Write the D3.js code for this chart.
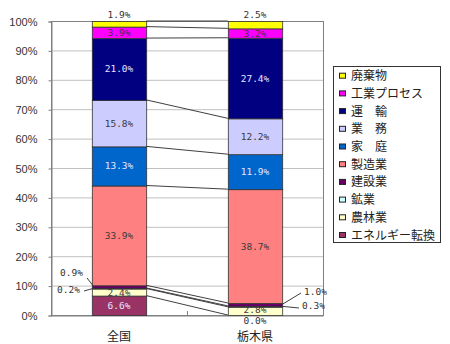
<!DOCTYPE html>
<html><head><meta charset="utf-8">
<script src="https://cdn.jsdelivr.net/npm/d3@7"></script>
<style>body{margin:0;background:#fff}</style>
</head><body>
<svg id="c" width="450" height="344"></svg>
<script>
const categories = ["全国", "栃木県"];
const seriesNames = ["エネルギー転換", "農林業", "鉱業", "建設業", "製造業", "家庭", "業務", "運輸", "工業プロセス", "廃棄物"];
const legendLabels = ["エネルギー転換", "農林業", "鉱業", "建設業", "製造業", "家　庭", "業　務", "運　輸", "工業プロセス", "廃棄物"];
const zenkokuValues = [6.6, 2.4, 0.2, 0.9, 33.9, 13.3, 15.8, 21.0, 3.9, 1.9];
const tochigiValues = [0.0, 2.8, 0.3, 1.0, 38.7, 11.9, 12.2, 27.4, 3.2, 2.5];
const seriesColors = ["#993366", "#FFFFCC", "#CCFFFF", "#660066", "#FF8080", "#0066CC", "#CCCCFF", "#000080", "#FF00FF", "#FFFF00"];
const yTickValues = [0, 0.1, 0.2, 0.3, 0.4, 0.5, 0.6, 0.7, 0.8, 0.9, 1.0];

const valuesByCat = [zenkokuValues, tochigiValues];
const rows = categories.map((c, i) => {
  const r = {cat: c};
  seriesNames.forEach((s, j) => r[s] = valuesByCat[i][j]);
  return r;
});

const svg = d3.select("#c");
const L = 51, R = 323, T = 21, B = 315;
const x = d3.scaleBand().domain(categories).range([L, R]).paddingInner(0.6).paddingOuter(0.3);
const y = d3.scaleLinear().domain([0, 1]).range([B, T]);
const stack = d3.stack().keys(seriesNames).offset(d3.stackOffsetExpand);
const layers = stack(rows);

// gridlines
svg.append("g").selectAll("line").data(yTickValues.slice(1, -1)).join("line")
  .attr("x1", L).attr("x2", R).attr("y1", d => y(d) + 0.5).attr("y2", d => y(d) + 0.5)
  .attr("stroke", "#c0c0c0").attr("stroke-width", 1);
// plot border
svg.append("rect").attr("x", L + 0.5).attr("y", T + 0.5).attr("width", R - L).attr("height", B - T)
  .attr("fill", "none").attr("stroke", "#808080");

// y axis
const yAxis = d3.axisLeft(y).tickValues(yTickValues).tickFormat(d3.format(".0%")).tickSize(3).tickPadding(11);
const gy = svg.append("g").attr("transform", `translate(${L + 0.5},0.5)`).call(yAxis);
gy.select(".domain").attr("stroke", "#808080");
gy.selectAll(".tick line").attr("stroke", "#808080");
gy.selectAll("text").attr("font-family", "Liberation Sans, Arial, sans-serif").attr("font-size", 11).attr("fill", "#333");

// x axis
const xAxis = d3.axisBottom(x).tickSize(0).tickPadding(17);
const gx = svg.append("g").attr("transform", `translate(0,${B + 0.5})`).call(xAxis);
gx.select(".domain").attr("stroke", "#808080");
gx.selectAll("text").attr("font-family", "Noto Sans CJK JP, sans-serif").attr("font-size", 12).attr("fill", "#222");
// category boundary tick
svg.append("line").attr("x1", (L + R) / 2 + 0.5).attr("x2", (L + R) / 2 + 0.5).attr("y1", B).attr("y2", B - 4)
  .attr("stroke", "#808080");

// series lines
const xa = categories[0], xb = categories[1];
svg.append("g").selectAll("line").data(layers).join("line")
  .attr("x1", x(xa) + x.bandwidth()).attr("x2", x(xb))
  .attr("y1", d => y(d[0][1])).attr("y2", d => y(d[1][1]))
  .attr("stroke", "#404040").attr("stroke-width", 1);

// bars
svg.append("g").selectAll("g").data(layers).join("g")
  .attr("fill", (d, i) => seriesColors[i])
  .selectAll("rect").data(d => d).join("rect")
  .attr("x", d => x(d.data.cat) + 0.5)
  .attr("y", d => y(d[1]) + 0.5)
  .attr("width", x.bandwidth())
  .attr("height", d => Math.max(0, y(d[0]) - y(d[1])))
  .attr("stroke", "#333").attr("stroke-width", 0.8);

// labels
const lightText = new Set(["エネルギー転換", "家庭", "運輸"]);
const fmt = v => v.toFixed(1) + "%";
const labelG = svg.append("g").attr("font-family", "DejaVu Sans Mono, monospace").attr("font-size", 9.5);
const outside = {
  "全国|廃棄物": {pos: "top"},
  "栃木県|廃棄物": {pos: "top"},
  "全国|建設業": {pos: "left", ty: 279, lx1: 87, ly1: 278},
  "全国|鉱業": {pos: "left", ty: 296, lx1: 84, ly1: 291},
  "栃木県|建設業": {pos: "right", ty: 296, lx1: 301, ly1: 293},
  "栃木県|鉱業": {pos: "right", ty: 310, lx1: 299, ly1: 308},
  "栃木県|エネルギー転換": {pos: "below"}
};
const innerShift = {"栃木県|農林業": -1.5};
layers.forEach((layer, si) => {
  layer.forEach((d, ci) => {
    const cat = d.data.cat, key = cat + "|" + layer.key;
    const v = valuesByCat[ci][si];
    const cx = x(cat) + x.bandwidth() / 2;
    const cy = (y(d[0]) + y(d[1])) / 2;
    const o = outside[key];
    if (!o) {
      labelG.append("text").attr("x", cx).attr("y", cy + 3.5 + (innerShift[key] || 0)).attr("text-anchor", "middle")
        .attr("fill", lightText.has(layer.key) ? "#e6e6ff" : "#3a3a3a").text(fmt(v));
    } else if (o.pos === "top") {
      labelG.append("text").attr("x", cx).attr("y", y(1) - 3).attr("text-anchor", "middle").attr("fill", "#333").text(fmt(v));
    } else if (o.pos === "below") {
      labelG.append("text").attr("x", cx).attr("y", B + 9).attr("text-anchor", "middle").attr("fill", "#333").text(fmt(v));
    } else if (o.pos === "left") {
      const bx = x(cat) + 2;
      labelG.append("text").attr("x", o.lx1 - 4).attr("y", o.ty - 3).attr("text-anchor", "end").attr("fill", "#333").text(fmt(v));
      svg.append("line").attr("x1", o.lx1).attr("y1", o.ly1).attr("x2", bx).attr("y2", cy).attr("stroke", "#404040");
    } else if (o.pos === "right") {
      const bx = x(cat) + x.bandwidth();
      labelG.append("text").attr("x", o.lx1 + 3).attr("y", o.ty - 1).attr("text-anchor", "start").attr("fill", "#333").text(fmt(v));
      svg.append("line").attr("x1", o.lx1).attr("y1", o.ly1).attr("x2", bx).attr("y2", cy).attr("stroke", "#404040");
    }
  });
});

// legend
const lg = svg.append("g");
lg.append("rect").attr("x", 333.5).attr("y", 66.5).attr("width", 107).attr("height", 176)
  .attr("fill", "#fff").attr("stroke", "#333");
const order = d3.range(seriesNames.length).reverse();
const item = lg.selectAll("g.it").data(order).join("g").attr("class", "it")
  .attr("transform", (d, i) => `translate(0,${75.7 + i * 17.7})`);
item.append("rect").attr("x", 339.5).attr("y", -2.5).attr("width", 6).attr("height", 5)
  .attr("fill", d => seriesColors[d]).attr("stroke", "#222").attr("stroke-width", 1);
item.append("text").attr("x", 351).attr("y", 4.5).attr("font-family", "Noto Sans CJK JP, sans-serif")
  .attr("font-size", 12).attr("fill", "#222").text(d => legendLabels[d]);
</script>
</body></html>
